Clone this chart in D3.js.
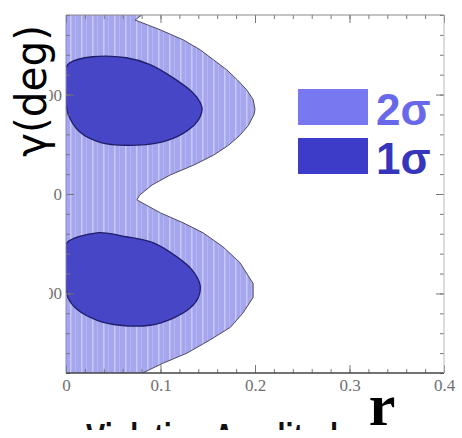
<!DOCTYPE html>
<html lang="en">
<head>
    <meta charset="utf-8">
    <script src="https://cdn.jsdelivr.net/npm/d3@7"></script>
    <style>
        body { margin: 0; background: white; }
        svg { display: block; }
        .tick text { font-family: "Liberation Serif", serif; font-size: 17px; fill: #707070; }
        .tick line { stroke: #777; }
        .domain { stroke: none; }
    </style>
</head>
<body>
<script>
    // axis ranges and tick labels
    const rDomain = [0, 0.4];
    const gammaDomain = [-180, 180];
    const rTicks = [0, 0.1, 0.2, 0.3, 0.4];
    const gammaTicks = [-100, 0, 100];

    // 2 sigma outer edge: [gamma, r]
    const sigma2Edge = [
        [180, 0.080], [175, 0.073], [165, 0.100], [155, 0.124], [145, 0.142],
        [135, 0.156], [125, 0.170], [115, 0.181], [105, 0.191], [95, 0.198],
        [85, 0.200], [80, 0.199], [69, 0.193], [59, 0.184], [49, 0.172],
        [39, 0.156], [29, 0.135], [19, 0.110], [9, 0.091], [-1, 0.078],
        [-6, 0.075], [-19, 0.100], [-29, 0.124], [-39, 0.145], [-53, 0.166],
        [-69, 0.184], [-90, 0.198], [-104, 0.198], [-120, 0.187], [-134, 0.174],
        [-147, 0.152], [-160, 0.128], [-170, 0.103], [-180, 0.081]
    ];

    // 1 sigma islands: [r, gamma]
    const sigma1Upper = [
        [0, 127], [0.004, 132], [0.028, 138], [0.064, 137], [0.089, 130],
        [0.113, 117], [0.133, 103], [0.142, 92], [0.144, 85], [0.139, 73],
        [0.124, 61], [0.100, 52], [0.064, 49], [0.036, 52], [0.015, 62],
        [0.002, 81], [0, 97]
    ];
    const sigma1Lower = [
        [0, -56], [0.001, -49], [0.033, -39], [0.064, -43], [0.092, -49],
        [0.117, -63], [0.134, -77], [0.142, -92], [0.140, -104], [0.131, -115],
        [0.113, -125], [0.089, -132], [0.057, -132], [0.033, -127], [0.013, -117],
        [0.002, -104], [0, -87]
    ];

    const legendLabels = ['2σ', '1σ'];

    const W = 462, H = 438;
    const mLeft = 66, mRight = 444, mTop = 15, mBottom = 373;

    const svg = d3.select('body').append('svg')
        .attr('width', W).attr('height', H);

    const defs = svg.append('defs');
    defs.append('clipPath').attr('id', 'plotclip')
        .append('rect').attr('x', mLeft).attr('y', mTop)
        .attr('width', mRight - mLeft).attr('height', mBottom - mTop);
    // tick labels on the left are partly hidden behind the axis title
    defs.append('clipPath').attr('id', 'labelclip')
        .append('rect').attr('x', -17).attr('y', -20).attr('width', 20).attr('height', 40);
    // caption below the chart is cut by the lower edge of the figure
    defs.append('clipPath').attr('id', 'captionclip')
        .append('rect').attr('x', 0).attr('y', 400).attr('width', W).attr('height', 30);

    let pat = defs.append('pattern').attr('id', 'stripes')
        .attr('patternUnits', 'userSpaceOnUse')
        .attr('width', 11).attr('height', 20);
    pat.append('rect').attr('width', 11).attr('height', 20).attr('fill', '#a6a6ef');
    pat.append('rect').attr('x', 4).attr('width', 1.5).attr('height', 20).attr('fill', '#c8c8f7');
    pat.append('rect').attr('x', 9).attr('width', 0.8).attr('height', 20).attr('fill', '#b9b9f3');

    let x = d3.scaleLinear().domain(rDomain).range([mLeft, mRight]);
    let y = d3.scaleLinear().domain(gammaDomain).range([mBottom, mTop]);

    let plot = svg.append('g').attr('clip-path', 'url(#plotclip)');

    // 2 sigma region
    plot.append('path')
        .datum(sigma2Edge)
        .attr('d', d3.area()
            .y(function (d) { return y(d[0]); })
            .x0(x(0))
            .x1(function (d) { return x(d[1]); }))
        .attr('fill', 'url(#stripes)');
    plot.append('path')
        .datum(sigma2Edge)
        .attr('d', d3.line()
            .x(function (d) { return x(d[1]); })
            .y(function (d) { return y(d[0]); }))
        .attr('fill', 'none')
        .attr('stroke', '#4a4a60')
        .attr('stroke-width', 1);

    // 1 sigma regions
    let blob = d3.line()
        .x(function (d) { return x(d[0]); })
        .y(function (d) { return y(d[1]); })
        .curve(d3.curveCatmullRomClosed);
    plot.selectAll('.blob')
        .data([sigma1Upper, sigma1Lower])
        .enter().append('path')
        .attr('class', 'blob')
        .attr('d', blob)
        .attr('fill', '#4646c6')
        .attr('stroke', '#1e1e6a')
        .attr('stroke-width', 1.3);

    // minor ticks
    let rMinor = d3.range(0, 0.4001, 0.02);
    let gMinor = d3.range(-180, 180.001, 20);

    function noLabels(g) { g.selectAll('text').remove(); }

    svg.append('g').attr('transform', 'translate(0,' + mBottom + ')')
        .call(d3.axisBottom(x).tickValues(rMinor).tickSize(-4)).call(noLabels);
    svg.append('g').attr('transform', 'translate(0,' + mTop + ')')
        .call(d3.axisTop(x).tickValues(rMinor).tickSize(-4)).call(noLabels);
    svg.append('g').attr('transform', 'translate(' + mLeft + ',0)')
        .call(d3.axisLeft(y).tickValues(gMinor).tickSize(-4)).call(noLabels);
    svg.append('g').attr('transform', 'translate(' + mRight + ',0)')
        .call(d3.axisRight(y).tickValues(gMinor).tickSize(-4)).call(noLabels);

    // major ticks
    svg.append('g').attr('transform', 'translate(0,' + mBottom + ')')
        .call(d3.axisBottom(x).tickValues(rTicks).tickSize(-8).tickPadding(6)
            .tickFormat(function (d) { return d === 0 ? '0' : d3.format('.1f')(d); }));
    svg.append('g').attr('transform', 'translate(0,' + mTop + ')')
        .call(d3.axisTop(x).tickValues(rTicks).tickSize(-8)).call(noLabels);
    svg.append('g').attr('transform', 'translate(' + mLeft + ',0)')
        .call(d3.axisLeft(y).tickValues(gammaTicks).tickSize(-8).tickPadding(4)
            .tickFormat(d3.format('d')))
        .selectAll('text').attr('clip-path', 'url(#labelclip)');
    svg.append('g').attr('transform', 'translate(' + mRight + ',0)')
        .call(d3.axisRight(y).tickValues(gammaTicks).tickSize(-8)).call(noLabels);

    // frame
    svg.append('line').attr('x1', mLeft).attr('x2', mRight).attr('y1', mBottom).attr('y2', mBottom)
        .attr('stroke', '#444').attr('stroke-width', 1.5);
    svg.append('line').attr('x1', mLeft).attr('x2', mRight).attr('y1', mTop).attr('y2', mTop)
        .attr('stroke', '#888').attr('stroke-width', 1);
    svg.append('line').attr('x1', mRight).attr('x2', mRight).attr('y1', mTop).attr('y2', mBottom)
        .attr('stroke', '#bbb').attr('stroke-width', 1);
    svg.append('line').attr('x1', mLeft).attr('x2', mLeft).attr('y1', mTop).attr('y2', mBottom)
        .attr('stroke', '#8888cc').attr('stroke-width', 1);

    // legend
    let legendColors = ['#7878f0', '#3c3cc8'];
    let legendText = ['#6868ea', '#3636bc'];
    let legend = svg.append('g').selectAll('g')
        .data(legendLabels)
        .enter().append('g')
        .attr('transform', function (d, i) { return 'translate(298,' + (89 + i * 49) + ')'; });
    legend.append('rect')
        .attr('width', 70).attr('height', 36)
        .attr('fill', function (d, i) { return legendColors[i]; });
    legend.append('text')
        .attr('x', 78).attr('y', 36)
        .attr('font-family', '"Liberation Sans", Arial, sans-serif')
        .attr('font-size', 44).attr('font-weight', 'bold')
        .attr('fill', function (d, i) { return legendText[i]; })
        .text(function (d) { return d; });

    // axis titles
    svg.append('text')
        .attr('transform', 'translate(46,91) rotate(-90)')
        .attr('text-anchor', 'middle')
        .attr('font-family', '"DejaVu Sans", "Liberation Sans", sans-serif')
        .attr('font-size', 42)
        .attr('textLength', 132).attr('lengthAdjust', 'spacingAndGlyphs')
        .attr('fill', '#000')
        .text('γ(deg)');

    svg.append('text')
        .attr('x', 382).attr('y', 425)
        .attr('text-anchor', 'middle')
        .attr('font-family', '"Liberation Serif", "Times New Roman", serif')
        .attr('font-weight', 'bold')
        .attr('font-size', 60)
        .attr('fill', '#000')
        .text('r');

    svg.append('text')
        .attr('x', 86).attr('y', 452)
        .attr('clip-path', 'url(#captionclip)')
        .attr('font-family', '"Liberation Sans", Arial, sans-serif')
        .attr('font-weight', 'bold')
        .attr('font-size', 40)
        .attr('textLength', 268).attr('lengthAdjust', 'spacingAndGlyphs')
        .attr('fill', '#111')
        .text('Violation Amplitude');
</script>
</body>
</html>
